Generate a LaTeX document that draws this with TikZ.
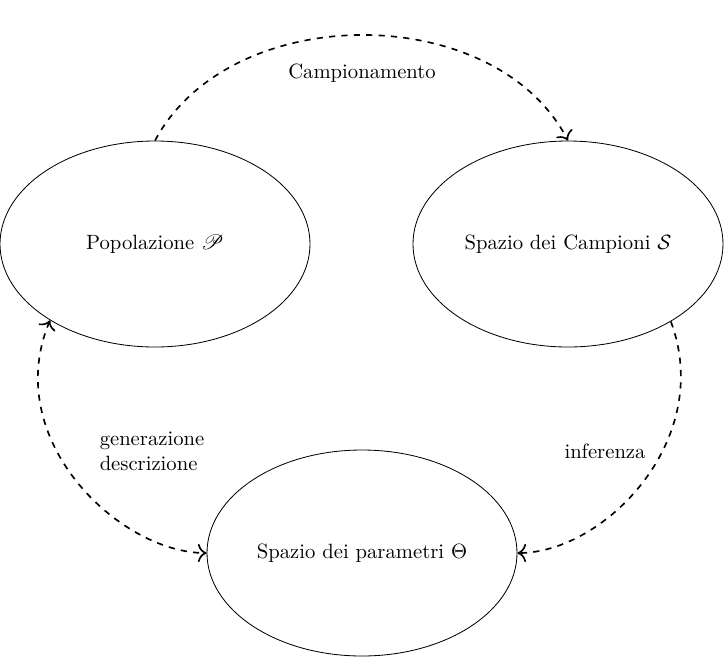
\documentclass[tikz,border=0pt]{standalone}
\usepackage{amsfonts,amssymb}
\usepackage{mathrsfs}
\usetikzlibrary{shapes.geometric,arrows.meta}
\begin{document}
\begin{tikzpicture}[x=0.01702cm,y=-0.01702cm,
  setbox/.style={draw,ellipse,inner sep=0pt,minimum width=310\s,minimum height=206\s},
  flow/.style={dashed,line width=0.8pt,-{To[scale=1.25]}},
  flowboth/.style={dashed,line width=0.8pt,{To[scale=1.25]}-{To[scale=1.25]}},
  lab/.style={inner sep=0pt}]
\def\s{*0.01702cm}
\useasboundingbox (0,0) rectangle (725,658);
\node[setbox] (pop) at (155,244) {Popolazione $\mathscr{P}$};
\node[setbox] (samp) at (568,244) {Spazio dei Campioni $\mathcal{S}$};
\node[setbox] (theta) at (362,553) {Spazio dei parametri $\Theta$};
\node[lab] (c) at (362,73) {Campionamento};
\node[lab,align=left] (g) at (152,451) {generazione\\descrizione};
\node[lab] (i) at (605,451) {inferenza};
\draw[flow] (pop.north) .. controls (230,0) and (495,0) .. (samp.north);
\draw[flowboth] (pop.-144) .. controls (0,440) and (120,553) .. (theta.west);
\draw[flow] (samp.-37) .. controls (715,440) and (604,553) .. (theta.east);
\end{tikzpicture}
\end{document}
